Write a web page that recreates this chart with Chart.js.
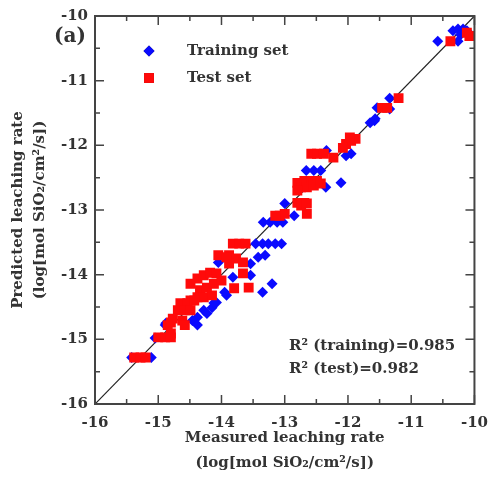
<!DOCTYPE html>
<html>
<head>
<meta charset="utf-8">
<script src="https://cdn.jsdelivr.net/npm/chart.js@4.4.0/dist/chart.umd.min.js"></script>
<style>
  body { margin: 0; background: #fff; }
  #wrap { width: 498px; height: 482px; }
</style>
</head>
<body>
<div id="wrap"><canvas id="grafico" width="498" height="482"></canvas></div>
<script>
// axis range and ticks (log leaching rate)
const axisMin = -16;
const axisMax = -10;
const tickStep = 1;
const minorStep = 0.5;

// training set (measured, predicted)
const trainX = [-10.58, -10.34, -10.26, -10.18, -10.12, -10.26, -10.22,
  -11.34, -11.54, -11.34, -11.58, -11.65, -11.57,
  -12.03, -11.95, -12.34, -12.66, -12.54, -12.43, -12.11, -12.35, -12.85, -13.0,
  -13.34, -13.23, -13.12, -13.03,
  -13.46, -13.35, -13.26, -13.15, -13.05,
  -13.42, -13.31, -13.54, -13.54, -13.2, -13.35, -13.82, -13.92, -14.08, -14.15, -14.38,
  -14.28, -14.46, -14.38, -14.23, -14.12, -13.95, -14.89, -14.88, -15.05, -15.11, -15.42, -14.05];
const trainY = [-10.39, -10.23, -10.20, -10.20, -10.23, -10.39, -10.29,
  -11.27, -11.42, -11.44, -11.62, -11.65, -11.59,
  -12.16, -12.13, -12.08, -12.39, -12.39, -12.39, -12.58, -12.65, -13.09, -12.9,
  -13.19, -13.19, -13.19, -13.19,
  -13.52, -13.52, -13.52, -13.52, -13.52,
  -13.73, -13.70, -13.83, -14.01, -14.14, -14.27, -14.04, -14.32, -14.43, -14.51, -14.66,
  -14.55, -14.71, -14.78, -14.60, -14.44, -14.27, -14.78, -14.75, -14.98, -15.28, -15.28, -13.81];

// test set (measured, predicted)
const testX = [-10.38, -10.12, -10.08,
  -11.2, -11.46, -11.38,
  -12.03, -11.95, -11.88, -12.08, -11.97, -12.58, -12.49, -12.38, -12.23,
  -12.8, -12.69, -12.58, -12.49, -12.74, -12.65, -12.54, -12.43, -12.8, -12.69, -12.8, -12.65, -12.74, -12.65,
  -13.08, -13.0, -13.15,
  -13.82, -13.72, -13.62,
  -13.88, -13.77, -13.66, -13.88, -13.66, -13.8, -13.57, -14.05, -13.92,
  -14.49, -14.38, -14.28, -14.18, -14.08, -14.34, -14.23, -14.12, -14.0, -14.38, -14.28, -14.49, -14.15,
  -14.65, -14.54, -14.43, -14.69, -14.58, -14.49, -14.62, -14.77, -14.85, -14.8, -14.58, -14.8,
  -15.0, -14.89, -14.8,
  -15.38, -15.28, -15.2];
const testY = [-10.39, -10.26, -10.31,
  -11.27, -11.42, -11.42,
  -11.98, -11.93, -11.90, -12.04, -11.88, -12.13, -12.13, -12.13, -12.19,
  -12.58, -12.55, -12.55, -12.55, -12.65, -12.65, -12.62, -12.59, -12.70, -12.89, -12.89, -13.06, -12.93, -12.9,
  -13.09, -13.06, -13.09,
  -13.52, -13.52, -13.52,
  -13.70, -13.75, -13.81, -13.83, -13.98, -14.21, -14.20, -13.70, -13.73,
  -14.14, -14.06, -14.01, -13.97, -13.98, -14.24, -14.20, -14.14, -14.09, -14.35, -14.35, -14.40, -14.32,
  -14.44, -14.44, -14.40, -14.55, -14.55, -14.55, -14.71, -14.68, -14.78, -14.91, -14.78, -14.74,
  -14.97, -14.97, -14.97,
  -15.28, -15.28, -15.28];

// y = x reference line
const idealX = [-16, -10];

const seriesNames = ["Training set", "Test set"];
const statLines = ["R\u00b2 (training)=0.985", "R\u00b2 (test)=0.982"];

const FONT = "'DejaVu Serif', 'Liberation Serif', serif";
const INK = "#333";

const pares = (xs, ys) => xs.map((x, i) => ({ x: x, y: ys[i] }));

// box, inward ticks on all sides, legend and notes
const marco = {
  id: "marco",
  afterDatasetsDraw(chart) {
    const { ctx, chartArea: a, scales: { x, y } } = chart;
    ctx.save();
    ctx.strokeStyle = "#444";
    ctx.lineWidth = 1.5;
    for (let v = axisMin; v <= axisMax + 1e-9; v += minorStep) {
      const len = Math.abs(v - Math.round(v)) < 1e-6 ? 9 : 5;
      const px = x.getPixelForValue(v);
      const py = y.getPixelForValue(v);
      ctx.beginPath();
      ctx.moveTo(px, a.bottom); ctx.lineTo(px, a.bottom - len);
      ctx.moveTo(px, a.top); ctx.lineTo(px, a.top + len);
      ctx.moveTo(a.left, py); ctx.lineTo(a.left + len, py);
      ctx.moveTo(a.right, py); ctx.lineTo(a.right - len, py);
      ctx.stroke();
    }
    ctx.lineWidth = 2;
    ctx.strokeRect(a.left, a.top, a.right - a.left, a.bottom - a.top);
    ctx.restore();
  },
  afterDraw(chart) {
    const { ctx } = chart;
    ctx.save();
    ctx.fillStyle = INK;
    ctx.textBaseline = "middle";
    ctx.font = "bold 20px " + FONT;
    ctx.fillText("(a)", 54, 37);

    // legend
    const sets = chart.data.datasets;
    const rows = [51, 78];
    ctx.font = "bold 15px " + FONT;
    seriesNames.forEach((name, i) => {
      const ds = sets[i];
      Chart.helpers.drawPoint(ctx, {
        pointStyle: ds.pointStyle, radius: ds.pointRadius, borderWidth: 0
      }, 149, rows[i]);
      ctx.fillStyle = ds.backgroundColor;
      ctx.fill();
      ctx.fillStyle = INK;
      ctx.fillText(name, 187, rows[i]);
    });

    ctx.font = "bold 15px " + FONT;
    ctx.fillText(statLines[0], 289, 346);
    ctx.fillText(statLines[1], 289, 369);
    ctx.restore();
  }
};

new Chart(document.getElementById("grafico").getContext("2d"), {
  type: "scatter",
  data: {
    datasets: [{
      label: seriesNames[0],
      data: pares(trainX, trainY),
      pointStyle: "rectRot",
      pointRadius: 5.5,
      backgroundColor: "#0a0aff",
      borderWidth: 0,
      order: 2
    }, {
      label: seriesNames[1],
      data: pares(testX, testY),
      pointStyle: "rect",
      pointRadius: 7,
      backgroundColor: "#ff0a0a",
      borderWidth: 0,
      order: 1
    }, {
      type: "line",
      label: "ideal",
      data: pares(idealX, idealX),
      borderColor: "#222",
      borderWidth: 1.2,
      pointRadius: 0,
      fill: false,
      order: 3
    }]
  },
  options: {
    responsive: false,
    animation: false,
    layout: { padding: { top: 15, right: 13, left: 0, bottom: 0 } },
    plugins: { legend: { display: false }, tooltip: { enabled: false } },
    scales: {
      x: {
        type: "linear",
        min: axisMin, max: axisMax,
        grid: { display: false, drawTicks: false },
        border: { display: false },
        ticks: { stepSize: tickStep, padding: 10, color: INK, font: { family: FONT, size: 15, weight: "bold" } },
        title: {
          display: true,
          text: ["Measured leaching rate", "(log[mol SiO\u2082/cm\u00b2/s])"],
          color: INK,
          padding: { top: 0, bottom: 6 },
          font: { family: FONT, size: 15, weight: "bold", lineHeight: "25px" }
        },
        afterFit(s) { s.height = 78; }
      },
      y: {
        type: "linear",
        min: axisMin, max: axisMax,
        grid: { display: false, drawTicks: false },
        border: { display: false },
        ticks: { stepSize: tickStep, padding: 7, color: INK, font: { family: FONT, size: 15, weight: "bold" } },
        title: {
          display: true,
          text: ["Predicted leaching rate", "(log[mol SiO\u2082/cm\u00b2/s])"],
          color: INK,
          padding: { top: 7, bottom: 0 },
          font: { family: FONT, size: 15, weight: "bold", lineHeight: "22px" }
        },
        afterFit(s) { s.width = 95; }
      }
    }
  },
  plugins: [marco]
});
</script>
</body>
</html>
